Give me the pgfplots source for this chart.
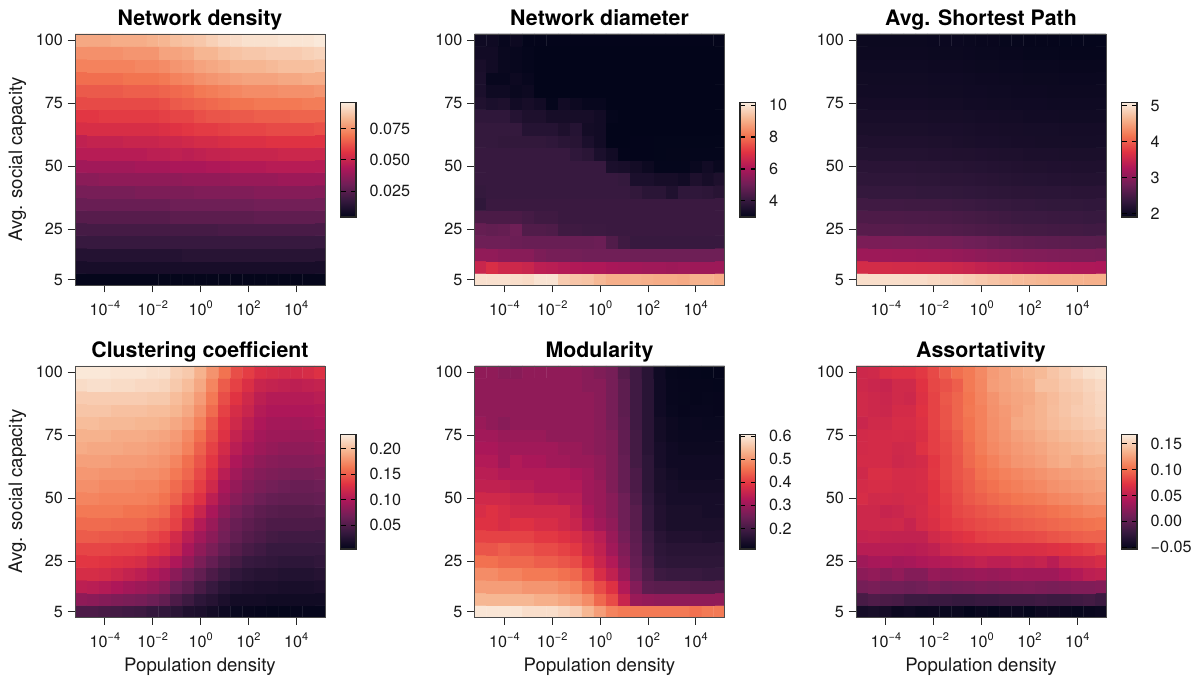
\documentclass[border=0pt]{standalone}
\usepackage{fontspec}
\setmainfont{TeX Gyre Heros}
\usepackage{pgfplots}
\usepackage{pgfplotstable}
\pgfplotsset{compat=1.18}
\pgfplotstableset{header=false}

\pgfplotstableread{
0.080 0.080 0.080 0.081 0.081 0.081 0.082 0.083 0.085 0.086 0.087 0.089 0.091 0.092 0.093 0.093 0.093 0.094 0.094 0.094 0.095
0.075 0.075 0.075 0.075 0.076 0.076 0.076 0.079 0.079 0.080 0.083 0.083 0.085 0.086 0.087 0.087 0.088 0.088 0.088 0.089 0.090
0.072 0.072 0.072 0.072 0.072 0.073 0.073 0.074 0.076 0.077 0.079 0.080 0.081 0.083 0.083 0.083 0.084 0.085 0.085 0.085 0.086
0.068 0.068 0.068 0.068 0.069 0.069 0.069 0.070 0.072 0.073 0.075 0.076 0.077 0.078 0.079 0.079 0.079 0.080 0.080 0.081 0.081
0.064 0.064 0.064 0.064 0.065 0.065 0.065 0.066 0.067 0.068 0.070 0.071 0.072 0.073 0.074 0.074 0.074 0.075 0.075 0.075 0.076
0.061 0.061 0.061 0.061 0.061 0.061 0.061 0.062 0.064 0.065 0.066 0.067 0.068 0.069 0.069 0.070 0.070 0.070 0.070 0.071 0.071
0.057 0.057 0.058 0.058 0.058 0.058 0.058 0.059 0.060 0.060 0.062 0.063 0.063 0.064 0.064 0.065 0.065 0.065 0.066 0.066 0.066
0.054 0.054 0.054 0.054 0.054 0.054 0.054 0.055 0.056 0.057 0.058 0.058 0.059 0.060 0.060 0.060 0.061 0.061 0.061 0.061 0.062
0.048 0.049 0.049 0.049 0.050 0.050 0.050 0.051 0.051 0.052 0.053 0.053 0.054 0.055 0.055 0.055 0.056 0.056 0.056 0.056 0.056
0.046 0.046 0.046 0.046 0.046 0.046 0.047 0.047 0.048 0.047 0.048 0.049 0.049 0.050 0.050 0.050 0.050 0.051 0.051 0.051 0.051
0.041 0.041 0.041 0.041 0.041 0.042 0.042 0.042 0.043 0.043 0.043 0.044 0.044 0.045 0.045 0.045 0.046 0.046 0.046 0.046 0.046
0.036 0.036 0.037 0.037 0.037 0.037 0.037 0.037 0.037 0.038 0.038 0.038 0.038 0.039 0.039 0.039 0.039 0.040 0.040 0.040 0.040
0.032 0.032 0.032 0.032 0.032 0.033 0.033 0.033 0.033 0.033 0.034 0.034 0.034 0.034 0.034 0.035 0.035 0.035 0.035 0.035 0.035
0.029 0.029 0.029 0.029 0.029 0.029 0.029 0.029 0.030 0.030 0.030 0.030 0.030 0.030 0.030 0.031 0.031 0.031 0.031 0.031 0.031
0.025 0.025 0.025 0.025 0.025 0.025 0.025 0.025 0.026 0.026 0.026 0.026 0.026 0.026 0.026 0.027 0.027 0.027 0.027 0.027 0.027
0.021 0.021 0.021 0.021 0.021 0.021 0.021 0.021 0.021 0.021 0.021 0.021 0.022 0.022 0.022 0.022 0.022 0.022 0.022 0.022 0.022
0.018 0.018 0.018 0.018 0.018 0.018 0.018 0.018 0.018 0.018 0.018 0.018 0.018 0.018 0.018 0.018 0.018 0.018 0.018 0.018 0.018
0.013 0.013 0.013 0.013 0.013 0.013 0.013 0.013 0.013 0.014 0.014 0.014 0.014 0.014 0.014 0.014 0.014 0.014 0.014 0.014 0.014
0.010 0.010 0.010 0.010 0.010 0.010 0.010 0.010 0.010 0.010 0.010 0.010 0.010 0.010 0.010 0.010 0.010 0.010 0.010 0.010 0.010
0.005 0.005 0.005 0.005 0.005 0.005 0.005 0.005 0.005 0.005 0.005 0.005 0.005 0.005 0.005 0.005 0.005 0.005 0.005 0.005 0.005
}\tabA

\pgfplotstableread{
3.25 3.25 3.10 3.20 3.02 3.02 3.02 3.02 3.02 3.02 3.02 3.02 3.02 3.02 3.02 3.02 3.02 3.02 3.02 3.02 3.02
3.30 3.30 3.15 3.10 3.05 3.00 3.00 3.00 3.00 3.00 3.00 3.00 3.00 3.00 3.00 3.00 3.00 3.00 3.00 3.00 3.00
3.45 3.30 3.15 3.10 3.05 3.00 3.00 3.00 3.00 3.00 3.00 3.00 3.00 3.00 3.00 3.00 3.00 3.00 3.00 3.00 3.00
3.50 3.10 3.10 3.20 3.10 3.00 3.00 3.00 3.00 3.00 3.00 3.00 3.00 3.00 3.00 3.00 3.00 3.00 3.00 3.00 3.00
3.50 3.25 3.25 3.15 3.20 3.00 3.00 3.00 3.00 3.00 3.00 3.00 3.00 3.00 3.00 3.00 3.00 3.00 3.00 3.00 3.00
3.60 3.50 3.55 3.30 3.40 3.30 3.05 3.30 3.20 3.10 3.10 3.00 3.00 3.00 3.00 3.00 3.00 3.00 3.00 3.00 3.00
3.90 3.90 3.90 3.70 3.55 3.55 3.40 3.40 3.40 3.40 3.30 3.05 3.00 3.00 3.00 3.00 3.00 3.00 3.00 3.00 3.00
4.00 4.00 4.00 4.00 3.70 3.70 3.70 3.55 3.70 3.35 3.30 3.00 3.00 3.00 3.00 3.00 3.00 3.00 3.00 3.00 3.00
4.00 4.00 3.95 3.95 3.95 3.95 3.90 3.80 3.75 3.50 3.30 3.00 3.00 3.02 3.02 3.03 3.03 3.03 3.03 3.03 3.03
4.05 4.05 4.05 4.05 4.05 4.05 4.05 4.05 3.90 3.80 3.50 3.30 3.02 3.02 3.02 3.03 3.04 3.04 3.05 3.05 3.05
4.05 4.05 4.05 4.05 4.05 4.05 4.05 4.05 4.05 4.05 4.05 3.50 3.45 3.35 3.20 3.05 3.05 3.05 3.15 3.30 3.15
4.05 4.05 4.05 4.05 4.05 4.05 4.05 4.05 4.05 4.05 4.05 4.05 4.00 3.50 3.50 3.40 3.40 3.30 3.55 3.40 3.55
4.00 4.05 4.05 4.05 4.05 4.05 4.05 4.05 4.05 4.05 4.05 4.05 4.05 3.95 3.80 3.80 3.60 3.90 3.90 3.85 3.75
3.90 4.10 4.10 4.10 4.10 4.10 4.10 4.10 4.10 4.10 4.10 4.10 4.10 4.10 4.10 4.10 4.10 4.10 4.10 4.10 4.10
4.40 4.40 4.40 4.40 4.30 4.20 4.20 4.10 4.10 4.10 4.10 4.10 4.10 4.10 4.10 4.10 4.10 4.10 4.10 4.10 4.10
4.85 4.80 4.85 5.00 4.50 4.50 4.45 4.20 4.20 4.15 4.15 4.10 4.10 4.10 4.10 4.10 4.10 4.10 4.10 4.10 4.10
5.00 5.00 5.00 4.95 4.90 4.90 4.90 4.90 4.90 4.90 4.95 4.50 4.20 4.05 4.05 4.05 4.05 4.05 4.05 4.05 4.05
5.60 5.60 5.50 5.45 5.45 5.25 5.15 5.15 5.10 5.05 5.05 5.05 5.05 5.00 5.00 5.00 5.00 5.00 5.00 5.00 5.00
6.60 6.90 6.70 6.70 6.60 6.35 6.30 6.20 6.15 6.10 6.10 6.00 5.95 5.90 5.85 5.85 5.80 5.85 5.80 5.80 5.80
9.95 9.95 9.95 9.90 9.85 10.00 10.00 9.55 9.45 9.40 9.20 9.05 9.05 9.10 9.05 9.00 9.00 8.95 9.10 9.10 9.00
}\tabB

\pgfplotstableread{
1.99 1.99 1.99 1.99 1.99 1.99 1.98 1.98 1.98 1.97 1.96 1.96 1.95 1.95 1.94 1.94 1.94 1.93 1.93 1.93 1.93
2.00 2.00 2.00 2.00 2.00 2.00 1.99 1.99 1.99 1.98 1.97 1.97 1.96 1.96 1.95 1.95 1.95 1.94 1.94 1.94 1.94
2.02 2.02 2.02 2.02 2.02 2.02 2.01 2.01 2.01 2.00 1.99 1.99 1.98 1.98 1.97 1.97 1.97 1.96 1.96 1.96 1.96
2.04 2.04 2.04 2.04 2.04 2.04 2.03 2.03 2.03 2.02 2.01 2.01 2.00 2.00 1.99 1.99 1.99 1.98 1.98 1.98 1.98
2.05 2.05 2.05 2.05 2.05 2.05 2.04 2.04 2.04 2.03 2.03 2.02 2.02 2.01 2.01 2.01 2.00 2.00 2.00 2.00 2.00
2.07 2.07 2.07 2.07 2.07 2.07 2.06 2.06 2.06 2.05 2.05 2.04 2.04 2.03 2.03 2.03 2.02 2.02 2.02 2.02 2.02
2.10 2.10 2.10 2.10 2.10 2.10 2.09 2.09 2.09 2.08 2.07 2.07 2.06 2.06 2.05 2.05 2.05 2.04 2.04 2.04 2.04
2.13 2.13 2.13 2.13 2.13 2.13 2.12 2.12 2.12 2.11 2.10 2.10 2.09 2.09 2.08 2.08 2.08 2.07 2.07 2.07 2.07
2.16 2.16 2.16 2.16 2.16 2.16 2.15 2.15 2.14 2.13 2.12 2.12 2.11 2.10 2.10 2.09 2.09 2.09 2.08 2.08 2.08
2.20 2.20 2.20 2.20 2.20 2.20 2.19 2.19 2.18 2.18 2.17 2.16 2.15 2.15 2.14 2.14 2.14 2.13 2.13 2.13 2.13
2.26 2.26 2.26 2.26 2.26 2.25 2.25 2.24 2.24 2.23 2.22 2.21 2.20 2.19 2.18 2.18 2.17 2.17 2.16 2.16 2.16
2.30 2.30 2.30 2.30 2.30 2.29 2.29 2.28 2.28 2.27 2.26 2.25 2.24 2.23 2.22 2.22 2.21 2.21 2.20 2.20 2.20
2.35 2.35 2.35 2.35 2.35 2.34 2.34 2.34 2.33 2.32 2.31 2.30 2.29 2.28 2.28 2.27 2.27 2.27 2.26 2.26 2.26
2.45 2.45 2.45 2.45 2.44 2.44 2.44 2.43 2.42 2.41 2.39 2.38 2.37 2.35 2.35 2.34 2.33 2.33 2.33 2.32 2.32
2.55 2.55 2.55 2.55 2.54 2.54 2.53 2.52 2.51 2.49 2.48 2.46 2.44 2.42 2.41 2.41 2.40 2.39 2.39 2.38 2.38
2.62 2.62 2.62 2.62 2.61 2.61 2.60 2.59 2.58 2.56 2.55 2.53 2.51 2.49 2.48 2.48 2.47 2.46 2.46 2.45 2.45
2.90 2.90 2.90 2.89 2.89 2.88 2.87 2.86 2.84 2.81 2.79 2.76 2.73 2.71 2.69 2.68 2.67 2.66 2.65 2.65 2.64
3.15 3.15 3.15 3.14 3.14 3.13 3.12 3.11 3.09 3.07 3.04 3.01 2.99 2.97 2.95 2.94 2.93 2.92 2.91 2.91 2.90
3.60 3.60 3.60 3.59 3.59 3.58 3.57 3.55 3.52 3.49 3.45 3.42 3.39 3.36 3.34 3.32 3.30 3.29 3.28 3.28 3.27
4.97 4.97 4.97 4.97 4.96 4.96 4.93 4.90 4.88 4.84 4.80 4.76 4.72 4.69 4.67 4.65 4.63 4.62 4.61 4.60 4.60
}\tabC

\pgfplotstableread{
0.225 0.225 0.225 0.223 0.223 0.223 0.220 0.220 0.211 0.207 0.194 0.178 0.162 0.144 0.136 0.127 0.124 0.122 0.122 0.124 0.129
0.218 0.220 0.220 0.218 0.218 0.216 0.216 0.214 0.207 0.200 0.189 0.171 0.151 0.138 0.127 0.116 0.113 0.111 0.109 0.111 0.113
0.209 0.209 0.209 0.209 0.209 0.209 0.207 0.207 0.200 0.194 0.182 0.165 0.144 0.131 0.120 0.109 0.104 0.104 0.104 0.104 0.107
0.205 0.205 0.205 0.202 0.202 0.202 0.200 0.200 0.196 0.189 0.176 0.158 0.138 0.124 0.116 0.104 0.100 0.100 0.100 0.100 0.102
0.200 0.200 0.198 0.198 0.198 0.196 0.196 0.194 0.189 0.182 0.169 0.149 0.133 0.120 0.109 0.100 0.095 0.095 0.093 0.095 0.098
0.194 0.194 0.194 0.191 0.191 0.191 0.189 0.187 0.182 0.173 0.160 0.144 0.129 0.113 0.104 0.095 0.091 0.091 0.089 0.089 0.091
0.191 0.189 0.189 0.189 0.187 0.187 0.185 0.182 0.178 0.169 0.153 0.138 0.122 0.107 0.098 0.091 0.087 0.084 0.084 0.084 0.087
0.185 0.185 0.185 0.182 0.182 0.182 0.180 0.178 0.171 0.160 0.147 0.133 0.116 0.100 0.091 0.084 0.080 0.078 0.078 0.078 0.080
0.180 0.180 0.178 0.178 0.178 0.176 0.176 0.173 0.165 0.156 0.142 0.127 0.107 0.093 0.084 0.078 0.075 0.073 0.071 0.071 0.073
0.176 0.176 0.173 0.173 0.173 0.171 0.171 0.167 0.158 0.149 0.136 0.120 0.098 0.087 0.078 0.073 0.069 0.066 0.064 0.064 0.066
0.171 0.171 0.169 0.169 0.169 0.169 0.167 0.162 0.153 0.140 0.129 0.109 0.091 0.080 0.073 0.066 0.062 0.060 0.060 0.060 0.062
0.165 0.165 0.165 0.165 0.162 0.162 0.160 0.156 0.142 0.131 0.116 0.098 0.082 0.071 0.064 0.058 0.055 0.053 0.053 0.053 0.055
0.158 0.158 0.158 0.156 0.156 0.156 0.151 0.147 0.138 0.120 0.104 0.089 0.073 0.064 0.058 0.053 0.049 0.049 0.049 0.049 0.049
0.151 0.151 0.149 0.149 0.147 0.147 0.142 0.136 0.122 0.107 0.093 0.082 0.069 0.060 0.053 0.049 0.044 0.042 0.042 0.042 0.042
0.140 0.140 0.140 0.138 0.138 0.136 0.131 0.127 0.116 0.098 0.084 0.073 0.062 0.053 0.046 0.042 0.037 0.037 0.037 0.037 0.037
0.133 0.133 0.131 0.129 0.127 0.124 0.116 0.111 0.100 0.087 0.073 0.062 0.051 0.044 0.037 0.035 0.033 0.031 0.031 0.031 0.033
0.124 0.124 0.122 0.118 0.113 0.109 0.102 0.095 0.082 0.069 0.060 0.049 0.040 0.033 0.029 0.026 0.026 0.024 0.024 0.024 0.026
0.109 0.107 0.104 0.100 0.095 0.091 0.087 0.080 0.066 0.058 0.046 0.037 0.029 0.024 0.022 0.020 0.020 0.018 0.018 0.018 0.020
0.084 0.082 0.078 0.075 0.073 0.071 0.066 0.060 0.049 0.040 0.031 0.026 0.020 0.015 0.015 0.015 0.013 0.013 0.013 0.013 0.013
0.049 0.049 0.046 0.044 0.042 0.040 0.035 0.033 0.029 0.022 0.020 0.015 0.011 0.008 0.007 0.006 0.005 0.005 0.006 0.006 0.006
}\tabD

\pgfplotstableread{
0.29 0.29 0.28 0.28 0.29 0.29 0.29 0.29 0.29 0.28 0.27 0.26 0.22 0.195 0.165 0.13 0.117 0.115 0.114 0.113 0.112
0.29 0.29 0.29 0.29 0.29 0.29 0.29 0.29 0.29 0.28 0.28 0.26 0.23 0.195 0.165 0.13 0.118 0.116 0.115 0.115 0.114
0.29 0.29 0.29 0.29 0.29 0.29 0.29 0.29 0.29 0.29 0.28 0.26 0.23 0.195 0.165 0.13 0.118 0.117 0.115 0.117 0.116
0.29 0.29 0.29 0.29 0.29 0.29 0.29 0.29 0.29 0.29 0.28 0.26 0.23 0.195 0.165 0.13 0.12 0.116 0.118 0.118 0.116
0.30 0.29 0.28 0.29 0.29 0.29 0.29 0.29 0.29 0.29 0.28 0.26 0.235 0.195 0.165 0.135 0.125 0.12 0.122 0.12 0.12
0.31 0.31 0.30 0.30 0.30 0.30 0.29 0.29 0.29 0.29 0.28 0.27 0.235 0.20 0.165 0.135 0.125 0.122 0.122 0.122 0.122
0.32 0.32 0.31 0.31 0.31 0.31 0.31 0.30 0.30 0.29 0.28 0.27 0.235 0.20 0.165 0.14 0.13 0.125 0.125 0.125 0.125
0.33 0.33 0.31 0.33 0.32 0.32 0.31 0.31 0.30 0.30 0.29 0.27 0.24 0.20 0.17 0.14 0.13 0.13 0.13 0.13 0.13
0.34 0.34 0.33 0.33 0.33 0.33 0.33 0.33 0.32 0.31 0.29 0.27 0.24 0.21 0.17 0.145 0.135 0.13 0.13 0.13 0.13
0.35 0.35 0.35 0.34 0.34 0.33 0.33 0.33 0.33 0.31 0.30 0.27 0.24 0.21 0.17 0.145 0.14 0.135 0.135 0.135 0.135
0.37 0.37 0.37 0.36 0.36 0.35 0.35 0.34 0.34 0.31 0.30 0.28 0.25 0.215 0.175 0.15 0.14 0.14 0.14 0.14 0.14
0.38 0.39 0.38 0.37 0.37 0.37 0.37 0.37 0.35 0.32 0.30 0.28 0.25 0.225 0.18 0.155 0.145 0.145 0.145 0.14 0.14
0.39 0.39 0.38 0.39 0.39 0.38 0.38 0.37 0.36 0.33 0.31 0.29 0.25 0.225 0.18 0.155 0.145 0.145 0.145 0.145 0.145
0.41 0.41 0.41 0.41 0.41 0.40 0.40 0.39 0.38 0.36 0.34 0.30 0.26 0.23 0.19 0.165 0.155 0.155 0.155 0.15 0.15
0.43 0.43 0.44 0.43 0.43 0.42 0.42 0.41 0.40 0.37 0.35 0.31 0.27 0.235 0.195 0.17 0.165 0.165 0.165 0.165 0.165
0.46 0.46 0.45 0.45 0.45 0.44 0.44 0.43 0.42 0.39 0.36 0.33 0.28 0.24 0.205 0.175 0.17 0.17 0.17 0.17 0.17
0.49 0.49 0.48 0.48 0.47 0.47 0.47 0.46 0.45 0.42 0.38 0.35 0.30 0.25 0.215 0.19 0.185 0.185 0.185 0.18 0.18
0.51 0.51 0.51 0.51 0.50 0.50 0.50 0.49 0.48 0.45 0.42 0.39 0.33 0.275 0.23 0.225 0.225 0.225 0.22 0.22 0.22
0.54 0.54 0.54 0.54 0.54 0.53 0.53 0.52 0.51 0.49 0.45 0.42 0.36 0.30 0.295 0.29 0.29 0.29 0.29 0.29 0.29
0.60 0.60 0.60 0.60 0.59 0.59 0.59 0.58 0.57 0.54 0.51 0.48 0.47 0.47 0.47 0.47 0.47 0.47 0.46 0.47 0.47
}\tabE

\pgfplotstableread{
0.060 0.061 0.068 0.070 0.070 0.075 0.083 0.092 0.101 0.106 0.114 0.123 0.127 0.132 0.136 0.139 0.145 0.150 0.156 0.161 0.163
0.060 0.058 0.056 0.062 0.062 0.072 0.082 0.087 0.093 0.106 0.113 0.124 0.127 0.130 0.133 0.143 0.143 0.148 0.150 0.154 0.158
0.062 0.060 0.058 0.062 0.060 0.070 0.080 0.090 0.096 0.104 0.112 0.119 0.125 0.128 0.130 0.136 0.140 0.145 0.147 0.152 0.156
0.062 0.060 0.059 0.064 0.064 0.072 0.080 0.088 0.096 0.105 0.110 0.118 0.122 0.127 0.132 0.136 0.141 0.145 0.149 0.151 0.155
0.058 0.062 0.062 0.066 0.066 0.070 0.080 0.088 0.096 0.103 0.110 0.117 0.121 0.130 0.132 0.136 0.140 0.143 0.146 0.149 0.152
0.063 0.064 0.064 0.065 0.064 0.068 0.078 0.085 0.091 0.102 0.109 0.116 0.120 0.125 0.128 0.132 0.136 0.139 0.141 0.144 0.146
0.063 0.064 0.064 0.061 0.062 0.071 0.078 0.083 0.090 0.099 0.108 0.114 0.118 0.122 0.125 0.128 0.132 0.134 0.137 0.140 0.142
0.064 0.064 0.064 0.060 0.062 0.064 0.074 0.082 0.088 0.098 0.104 0.110 0.115 0.120 0.122 0.125 0.130 0.133 0.130 0.134 0.136
0.061 0.068 0.068 0.065 0.065 0.066 0.075 0.082 0.088 0.093 0.102 0.106 0.110 0.113 0.116 0.119 0.122 0.124 0.126 0.128 0.130
0.064 0.066 0.066 0.064 0.064 0.066 0.072 0.080 0.086 0.092 0.098 0.102 0.106 0.109 0.112 0.114 0.118 0.120 0.122 0.124 0.126
0.066 0.062 0.063 0.062 0.064 0.064 0.072 0.078 0.084 0.090 0.094 0.098 0.101 0.104 0.106 0.108 0.112 0.114 0.116 0.120 0.121
0.060 0.060 0.056 0.058 0.062 0.065 0.070 0.076 0.082 0.085 0.088 0.091 0.094 0.096 0.098 0.100 0.103 0.105 0.108 0.111 0.112
0.060 0.060 0.060 0.061 0.056 0.064 0.068 0.075 0.078 0.081 0.084 0.086 0.088 0.091 0.093 0.095 0.097 0.099 0.101 0.103 0.104
0.055 0.056 0.054 0.053 0.053 0.053 0.062 0.066 0.070 0.073 0.078 0.080 0.081 0.082 0.083 0.085 0.088 0.090 0.093 0.095 0.095
0.048 0.048 0.048 0.048 0.047 0.049 0.052 0.060 0.062 0.064 0.065 0.066 0.066 0.067 0.067 0.068 0.070 0.072 0.075 0.078 0.082
0.034 0.038 0.040 0.036 0.038 0.042 0.044 0.046 0.048 0.050 0.054 0.050 0.050 0.054 0.052 0.055 0.048 0.058 0.060 0.062 0.066
0.024 0.027 0.022 0.027 0.020 0.020 0.029 0.026 0.028 0.030 0.032 0.030 0.032 0.035 0.034 0.034 0.034 0.040 0.044 0.050 0.052
0.012 0.014 0.010 0.010 0.008 0.010 0.014 0.010 0.012 0.013 0.016 0.014 0.016 0.017 0.018 0.016 0.014 0.016 0.018 0.018 0.020
-0.012 -0.008 -0.010 -0.012 -0.018 -0.018 -0.020 -0.020 -0.022 -0.022 -0.020 -0.020 -0.018 -0.018 -0.018 -0.016 -0.018 -0.018 -0.016 -0.014 -0.018
-0.042 -0.040 -0.042 -0.048 -0.046 -0.049 -0.048 -0.049 -0.049 -0.053 -0.050 -0.052 -0.050 -0.049 -0.052 -0.048 -0.048 -0.050 -0.051 -0.050 -0.048
}\tabF

\newcommand{\buildcoords}[2]{%
  \gdef#2{}%
  \foreach \r in {19,...,0}{%
    \foreach \c in {0,...,20}{%
      \pgfplotstablegetelem{\r}{[index]\c}\of{#1}%
      \pgfmathsetmacro\xx{(\c-10)/2}%
      \pgfmathsetmacro\yy{100-5*\r}%
      \xdef#2{#2 (\xx,\yy) [\pgfplotsretval]}%
    }%
  }%
}
\buildcoords{\tabA}{\coordsA}
\buildcoords{\tabB}{\coordsB}
\buildcoords{\tabC}{\coordsC}
\buildcoords{\tabD}{\coordsD}
\buildcoords{\tabE}{\coordsE}
\buildcoords{\tabF}{\coordsF}

\newcommand{\pw}[1]{10\raisebox{.42em}{\fontsize{11}{12}\selectfont #1}}

\pgfplotsset{
  colormap={rocket}{rgb255=(3,5,26) rgb255=(53,25,62) rgb255=(112,31,87) rgb255=(173,23,89) rgb255=(225,51,66) rgb255=(243,118,81) rgb255=(246,180,143) rgb255=(250,235,221)},
  panel/.style={
    scale only axis, width=250pt, height=251pt, anchor=south west,
    xmin=-5.25, xmax=5.2, ymin=2.9, ymax=102.5,
    xtick={-4,-2,0,2,4},
    xticklabels={\pw{−4},\pw{−2},\pw{0},\pw{2},\pw{4}},
    ytick={5,25,50,75,100},
    yticklabels={5,25,50,75,100},
    xtick pos=bottom, ytick pos=left,
    tick align=outside, major tick length=7.5pt,
    tick style={black!85, line width=0.9pt},
    axis line style={black!70, line width=0.8pt},
    tick label style={font=\fontsize{16.2}{18}\selectfont, text=black!90},
    xticklabel style={yshift=-5pt},
    yticklabel style={xshift=-1pt},
    title style={font=\fontsize{21.3}{23}\bfseries\selectfont, text height=16pt, text depth=4.5pt, yshift=-6pt},
    label style={font=\fontsize{18.6}{20}\selectfont, text=black!90},
    xlabel style={yshift=-3pt},
    ylabel style={yshift=3pt},
    axis on top,
    colormap name=rocket,
    colorbar,
    colorbar style={
      at={(parent axis.north east)}, anchor=north west, xshift=7pt, yshift=-68.7pt,
      width=15.5pt, height=114.2pt,
      tick align=inside, major tick length=5pt,
      ytick pos=both, yticklabel pos=right,
      xtick=\empty,
      scaled y ticks=false,
      tick style={black, line width=1.1pt},
      axis line style={black!85, line width=1.3pt},
      yticklabel style={font=\fontsize{16.2}{18}\selectfont, text=black!90, xshift=10pt},
    },
  },
}

\newcommand{\panel}[9]{%
  \begin{axis}[panel, at={(#1pt,#2pt)}, title={#3},
    point meta min=#5, point meta max=#6,
    colorbar style={ytick={#7}, yticklabels={#8}}, #9]
    \edef\tmp{\noexpand\addplot[matrix plot*, mesh/cols=21, point meta=explicit] coordinates {#4};}\tmp
  \end{axis}%
}

\begin{document}
\begin{tikzpicture}
\useasboundingbox (0,0) rectangle (1198pt,679pt);
\panel{75}{394}{Network density}{\coordsA}{0.0045}{0.0955}{0.025,0.05,0.075}{0.025,0.050,0.075}{ylabel={Avg. social capacity}}
\panel{474.5}{394}{Network diameter}{\coordsB}{3}{10.15}{4,6,8,10}{4,6,8,10}{}
\panel{856}{394}{Avg. Shortest Path}{\coordsC}{1.91}{5.08}{2,3,4,5}{2,3,4,5}{}
\panel{75}{62}{Clustering coefficient}{\coordsD}{0.004}{0.227}{0.05,0.1,0.15,0.2}{0.05,0.10,0.15,0.20}{ylabel={Avg. social capacity}, xlabel={Population density}}
\panel{474.5}{62}{Modularity}{\coordsE}{0.111}{0.607}{0.2,0.3,0.4,0.5,0.6}{0.2,0.3,0.4,0.5,0.6}{xlabel={Population density}}
\panel{856}{62}{Assortativity}{\coordsF}{-0.0535}{0.1674}{-0.05,0,0.05,0.1,0.15}{−0.05,0.00,0.05,0.10,0.15}{xlabel={Population density}}
\end{tikzpicture}
\end{document}
